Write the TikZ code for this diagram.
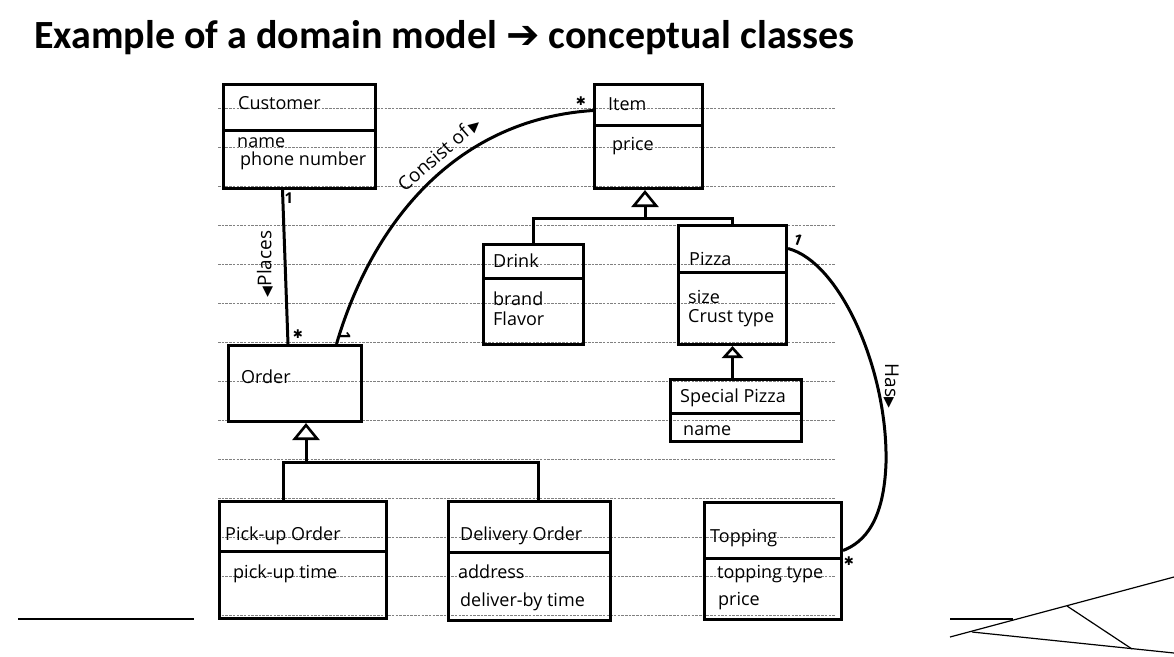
\documentclass[tikz,border=0pt]{standalone}
\usepackage{fontspec}
\setmainfont{Open Sans}
\newfontfamily\handfont{Open Sans}
\newfontfamily\titlefont{Carlito}
\newfontfamily\symfont{DejaVu Sans}
\usetikzlibrary{arrows.meta}
\begin{document}
\begin{tikzpicture}[x=1pt,y=-1pt,
  box/.style={draw, line width=3pt, inner sep=0pt, anchor=north west},
  rule/.style={draw=black!50, line width=0.8pt, dash pattern=on 2.5pt off 1.2pt},
  conn/.style={line width=3pt},
  gen/.style={conn, -{Triangle[open, length=17pt, width=27pt, line width=2.6pt]}},
  gensmall/.style={conn, -{Triangle[open, length=12pt, width=21pt, line width=2.6pt]}},
  hand/.style={font=\handfont\fontsize{18}{20}\selectfont, anchor=base west, inner sep=0pt},
  lab/.style={font=\handfont\fontsize{19}{21}\selectfont, anchor=center, inner sep=0pt},
  mult/.style={font=\handfont\bfseries\fontsize{15}{15}\selectfont, inner sep=0pt, anchor=center},
  star/.style={font=\symfont\fontsize{12}{12}\selectfont, inner sep=0pt, anchor=center},
  deco/.style={line width=1.2pt}]
\useasboundingbox (0,0) rectangle (1174,656);

% title
\node[anchor=base west, inner sep=0pt, font=\titlefont\bfseries\fontsize{40}{44}\selectfont] (title) at (34,48)
  {Example of a domain model {\symfont ➔} conceptual classes};

% ruled paper
\foreach \k in {0,...,13} \draw[rule] (218,{108+39*\k}) -- (835,{108+39*\k});

% class boxes
\node[box, minimum width=152pt, minimum height=104pt] (cust) at (222,83) {};
\draw[conn] (cust.west |- 0,130) -- (cust.east |- 0,130);
\node[box, minimum width=108pt, minimum height=104pt] (item) at (593,83) {};
\draw[conn] (item.west |- 0,125) -- (item.east |- 0,125);
\node[box, minimum width=100pt, minimum height=100pt] (drink) at (482,243) {};
\draw[conn] (drink.west |- 0,278) -- (drink.east |- 0,278);
\node[box, minimum width=108pt, minimum height=119pt] (pizza) at (677,224) {};
\draw[conn] (pizza.west |- 0,272) -- (pizza.east |- 0,272);
\node[box, minimum width=131pt, minimum height=62pt] (special) at (669,378) {};
\draw[conn] (special.west |- 0,413) -- (special.east |- 0,413);
\node[box, minimum width=133pt, minimum height=76pt] (order) at (227,344) {};
\node[box, minimum width=167pt, minimum height=117pt] (pick) at (218,500) {};
\draw[conn] (pick.west |- 0,551) -- (pick.east |- 0,551);
\node[box, minimum width=162pt, minimum height=119pt] (deliv) at (447,500) {};
\draw[conn] (deliv.west |- 0,552) -- (deliv.east |- 0,552);
\node[box, minimum width=137pt, minimum height=117pt] (topping) at (703,501) {};
\draw[conn] (topping.west |- 0,558) -- (topping.east |- 0,558);

% class texts
\node[hand] (tcust) at (238,109) {Customer};
\node[hand] (tcust1) at (237,147) {name};
\node[hand] (tcust2) at (240,165) {phone number};
\node[hand] (titem) at (608,110) {Item};
\node[hand] (titem1) at (612,150) {price};
\node[hand] (tdrink) at (493,267) {Drink};
\node[hand] (tdrink1) at (493,305) {brand};
\node[hand] (tdrink2) at (493,325) {Flavor};
\node[hand] (tpizza) at (689,265) {Pizza};
\node[hand] (tpizza1) at (688,303) {size};
\node[hand] (tpizza2) at (688,322) {Crust type};
\node[hand] (tspec) at (680,402) {Special Pizza};
\node[hand] (tspec1) at (683,435) {name};
\node[hand] (torder) at (241,383) {Order};
\node[hand] (tpick) at (225,540) {Pick-up Order};
\node[hand] (tpick1) at (233,578) {pick-up time};
\node[hand] (tdel) at (460,540) {Delivery Order};
\node[hand] (tdel1) at (458,578) {address};
\node[hand] (tdel2) at (460,606) {deliver-by time};
\node[hand] (ttop) at (710,542) {Topping};
\node[hand] (ttop1) at (717,578) {topping type};
\node[hand] (ttop2) at (718,605) {price};

% generalizations
\coordinate (itemj) at (645,218);
\draw[conn] (drink.north) |- (itemj) -| (pizza.north);
\draw[gen] (itemj) -- (item.south -| itemj);
\coordinate (orderj) at (306,462);
\draw[conn] ([xshift=-20pt]pick.north) |- (orderj) -| ([xshift=9pt]deliv.north);
\draw[gen] (orderj) -- (order.south -| orderj);
\draw[gensmall] (special.north -| pizza.south) -- (pizza.south);

% associations
\draw[conn] ([xshift=-17pt]cust.south) -- ([xshift=-7pt]order.north);
\node[mult] (m1) at (289,198) {1};
\node[star] (m2) at (298,334) {✱};
\node[lab, rotate=90] (lplaces) at (265,264) {{\symfont\fontsize{14}{14}\selectfont ◀}Places};

\draw[conn] ([xshift=41.5pt]order.north) .. controls (370,230) and (450,120) .. ([yshift=26pt]item.west);
\node[mult, rotate=-90] (m3) at (345,336) {1};
\node[star] (m4) at (581,101) {✱};
\node[lab, rotate=41] (lcons) at (439,154) {Consist of\,{\symfont\fontsize{14}{14}\selectfont ▶}};

\draw[conn] ([yshift=36.5pt]pizza.east) .. controls (840,262) and (888,370) .. (886,463)
  .. controls (884,520) and (865,542) .. ([yshift=10.5pt]topping.east);
\node[mult, rotate=-20] (m5) at (798,240) {1};
\node[star] (m6) at (849,561) {✱};
\node[lab, rotate=-90] (lhas) at (891,386) {Has{\symfont\fontsize{14}{14}\selectfont ▶}};

% slide decoration
\draw[deco] (18,619) -- (194,619);
\draw[deco] (950,619) -- (1013,619);
\draw[deco] (950,637) -- (1174,577);
\draw[deco] (972,632) -- (1174,653);
\draw[deco] (1067,606) -- (1132,649);
\end{tikzpicture}
\end{document}
